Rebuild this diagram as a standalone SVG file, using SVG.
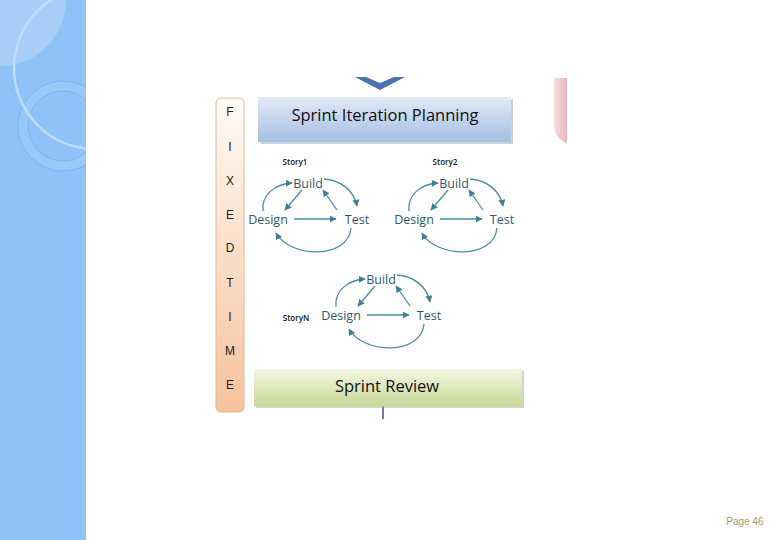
<svg xmlns="http://www.w3.org/2000/svg" width="780" height="540" viewBox="0 0 780 540">
<defs>
<style>
.tl{font-family:"Liberation Sans",Arial,sans-serif;font-size:12px;fill:#222;text-anchor:middle}
.cy{font-family:"Open Sans","Noto Sans",sans-serif;font-size:12.5px;fill:#2f5a6c;text-anchor:middle}
.st{font-family:"Open Sans","Noto Sans",sans-serif;font-size:8px;font-weight:600;fill:#111;text-anchor:middle}
.hd{font-family:"Open Sans","Noto Sans",sans-serif;font-size:16.5px;fill:#111;text-anchor:middle}
.ar{fill:none;stroke:#4a8ca3;stroke-width:1.3;marker-end:url(#ah)}
</style>
<marker id="ah" viewBox="0 0 10 10" refX="9" refY="5" markerWidth="7" markerHeight="7" orient="auto" markerUnits="userSpaceOnUse">
<path d="M0,0 L10,5 L0,10 z" fill="#3f7f96"/>
</marker>
<linearGradient id="gT" x1="0" y1="0" x2="0" y2="1">
<stop offset="0" stop-color="#fffaf4"/><stop offset="1" stop-color="#f6c29c"/>
</linearGradient>
<linearGradient id="gB" x1="0" y1="0" x2="0" y2="1">
<stop offset="0" stop-color="#e2eaf6"/><stop offset="1" stop-color="#a6bee2"/>
</linearGradient>
<linearGradient id="gG" x1="0" y1="0" x2="0" y2="1">
<stop offset="0" stop-color="#f3f7e4"/><stop offset="1" stop-color="#c6d894"/>
</linearGradient>
<linearGradient id="gP" x1="0" y1="0" x2="1" y2="0">
<stop offset="0" stop-color="#f6dcdc"/><stop offset="1" stop-color="#e8b8bc"/>
</linearGradient>
<clipPath id="pc"><rect x="0" y="0" width="86" height="540"/></clipPath>
<g id="cyc">
<path class="ar" d="M263,211 C261,195 275,184 292,183"/>
<path class="ar" d="M302,190 L285,210"/>
<path class="ar" d="M324,179 C340,180 354,190 357,206"/>
<path class="ar" d="M337,210 L323,190"/>
<path class="ar" d="M294,219 L336,219"/>
<path class="ar" d="M351,228 C348,260 290,258 276,233"/>
</g>
</defs>

<g id="panel" clip-path="url(#pc)">
<rect x="0" y="0" width="86" height="540" fill="#8fc2f6"/>
<circle cx="0" cy="0" r="66" fill="#a9cff8"/>
<circle cx="63" cy="126" r="45" fill="#99c9f8" stroke="#78aeea" stroke-width="0.8"/>
<circle cx="63" cy="126" r="35" fill="#8fc2f6" stroke="#78aeea" stroke-width="0.8"/>
<circle cx="95" cy="68" r="81" fill="none" stroke="#bfdcfa" stroke-width="2.5"/>
</g>

<g id="chevron"><path d="M355,77 L366,77 L380,83 L394,77 L405,77 L380,90 z" fill="#4a72b0"/></g>
<g id="pink"><path d="M554,78 L567,78 L567,143 C560,141 554,134 554,126 z" fill="url(#gP)"/></g>

<g id="timebar">
<rect x="216" y="98" width="28" height="314" rx="5" fill="url(#gT)" stroke="#e6b594" stroke-width="1"/>
<text class="tl" x="230" y="116">F</text>
<text class="tl" x="230" y="151">I</text>
<text class="tl" x="230" y="185">X</text>
<text class="tl" x="230" y="219">E</text>
<text class="tl" x="230" y="252">D</text>
<text class="tl" x="230" y="287">T</text>
<text class="tl" x="230" y="321">I</text>
<text class="tl" x="230" y="355">M</text>
<text class="tl" x="230" y="389">E</text>
</g>

<g id="planning">
<rect x="260" y="99" width="253" height="45" fill="#9aa6b8" opacity="0.5"/>
<rect x="258" y="97" width="253" height="45" fill="url(#gB)"/>
<text class="hd" x="385" y="121">Sprint Iteration Planning</text>
</g>

<g id="connectors">
<use href="#cyc"/>
<use href="#cyc" transform="translate(146,0)"/>
<use href="#cyc" transform="translate(73,96)"/>
<line x1="383" y1="406" x2="383" y2="419" stroke="#3a5688" stroke-width="1.5"/>
</g>

<g id="story1">
<text class="st" x="295" y="165">Story1</text>
<text class="cy" x="308" y="188">Build</text>
<text class="cy" x="268" y="224">Design</text>
<text class="cy" x="357" y="224">Test</text>
</g>
<g id="story2">
<text class="st" x="445" y="165">Story2</text>
<text class="cy" x="454" y="188">Build</text>
<text class="cy" x="414" y="224">Design</text>
<text class="cy" x="502" y="224">Test</text>
</g>
<g id="storyN">
<text class="st" x="296" y="321">StoryN</text>
<text class="cy" x="381" y="284">Build</text>
<text class="cy" x="341" y="320">Design</text>
<text class="cy" x="429" y="320">Test</text>
</g>

<g id="review">
<rect x="256" y="371" width="268" height="37" fill="#a4ab96" opacity="0.5"/>
<rect x="254" y="369" width="268" height="37" fill="url(#gG)"/>
<text class="hd" x="387" y="392">Sprint Review</text>
</g>

<text x="745" y="525" style="font-family:'Liberation Sans',Arial,sans-serif;font-size:10px;fill:#9e9a60;text-anchor:middle">Page 46</text>
</svg>
